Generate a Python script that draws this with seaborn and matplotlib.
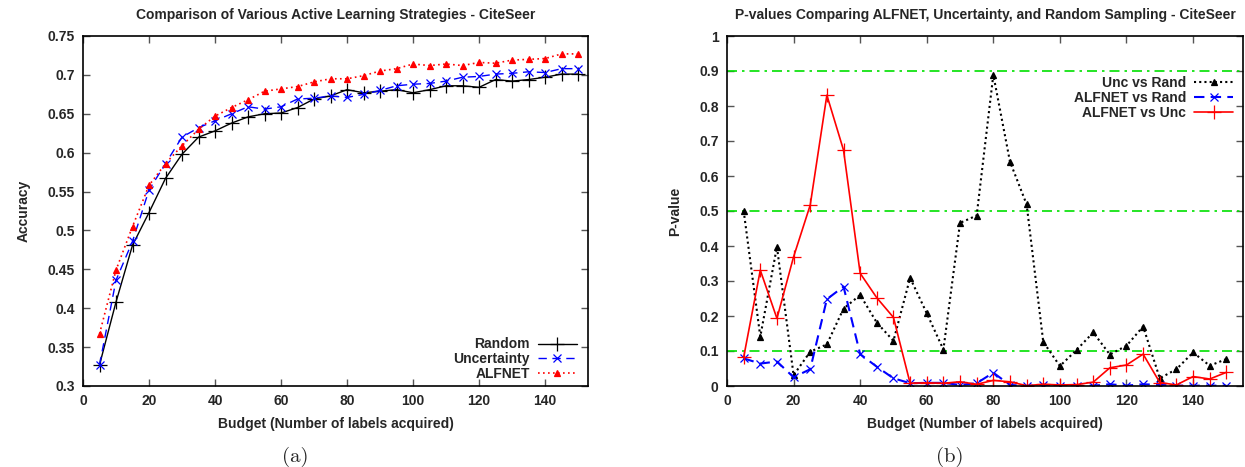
import matplotlib
matplotlib.use("Agg")
import matplotlib.pyplot as plt
from matplotlib.ticker import FormatStrFormatter, MultipleLocator
import seaborn as sns

# budget (number of labels acquired)
budget = [5, 10, 15, 20, 25, 30, 35, 40, 45, 50, 55, 60, 65, 70, 75,
          80, 85, 90, 95, 100, 105, 110, 115, 120, 125, 130, 135, 140, 145, 150]

# (a) accuracy
acc_random = [0.327, 0.408, 0.481, 0.523, 0.567, 0.598, 0.620, 0.628, 0.638, 0.646,
              0.650, 0.651, 0.658, 0.669, 0.673, 0.681, 0.677, 0.679, 0.681, 0.677,
              0.681, 0.686, 0.686, 0.684, 0.694, 0.692, 0.694, 0.697, 0.701, 0.701]
acc_uncertainty = [0.327, 0.436, 0.486, 0.552, 0.586, 0.620, 0.632, 0.641, 0.650, 0.659,
                   0.656, 0.659, 0.669, 0.670, 0.673, 0.671, 0.675, 0.680, 0.686, 0.688,
                   0.689, 0.692, 0.697, 0.698, 0.701, 0.702, 0.704, 0.703, 0.708, 0.708]
acc_alfnet = [0.367, 0.449, 0.505, 0.558, 0.586, 0.609, 0.630, 0.647, 0.658, 0.668,
              0.679, 0.682, 0.685, 0.691, 0.695, 0.695, 0.699, 0.705, 0.708, 0.714,
              0.712, 0.714, 0.712, 0.716, 0.715, 0.719, 0.720, 0.721, 0.727, 0.727]

# (b) p-values
p_unc_rand = [0.501, 0.141, 0.398, 0.031, 0.098, 0.119, 0.221, 0.260, 0.181, 0.129,
              0.309, 0.208, 0.104, 0.466, 0.487, 0.889, 0.641, 0.519, 0.126, 0.057,
              0.103, 0.153, 0.090, 0.115, 0.170, 0.022, 0.048, 0.096, 0.058, 0.077]
p_alfnet_rand = [0.079, 0.064, 0.070, 0.025, 0.048, 0.248, 0.284, 0.091, 0.055, 0.022,
                 0.008, 0.009, 0.009, 0.003, 0.008, 0.038, 0.003, 0.000, 0.003, 0.001,
                 0.000, 0.001, 0.005, 0.001, 0.005, 0.003, 0.001, 0.001, 0.001, 0.001]
p_alfnet_unc = [0.082, 0.331, 0.193, 0.369, 0.517, 0.831, 0.674, 0.322, 0.252, 0.196,
                0.008, 0.009, 0.008, 0.012, 0.005, 0.016, 0.012, 0.001, 0.005, 0.003,
                0.004, 0.011, 0.052, 0.060, 0.091, 0.010, 0.003, 0.027, 0.020, 0.039]

thresholds = [0.1, 0.5, 0.9]

sns.set_style("ticks")
plt.rcParams['font.family'] = ['Liberation Sans', 'DejaVu Sans']
plt.rcParams['font.weight'] = 'bold'
plt.rcParams['axes.labelweight'] = 'bold'
plt.rcParams['axes.titleweight'] = 'bold'
FS = 10

W, H = 1245, 467
fig = plt.figure(figsize=(W / 100, H / 100), dpi=100)
ax1 = fig.add_axes([83 / W, 1 - 386 / H, (588 - 83) / W, 350 / H])
ax2 = fig.add_axes([727 / W, 1 - 386 / H, (1243 - 727) / W, 350 / H])


def line(ax, y, color, ls, marker, ms, lw, label):
    sns.lineplot(x=budget, y=y, ax=ax, color=color, linestyle=ls, linewidth=lw,
                 marker=marker, markersize=ms, markeredgecolor=color,
                 markerfacecolor=color, markeredgewidth=0.9, label=label)


line(ax1, acc_random, 'black', '-', '+', 10, 1.0, 'Random')
line(ax1, acc_uncertainty, '#0000ff', (0, (6, 4)), 'x', 5.5, 1.0, 'Uncertainty')
line(ax1, acc_alfnet, '#ff0000', (0, (1, 2)), '^', 4.5, 1.2, 'ALFNET')

for t in thresholds:
    ax2.axhline(t, color='#00e000', linestyle=(0, (6, 3, 1.5, 3)), linewidth=1.2, zorder=1)
line(ax2, p_unc_rand, 'black', (0, (1, 1.5)), '^', 4.5, 1.5, 'Unc vs Rand')
line(ax2, p_alfnet_rand, '#0000ff', (0, (5, 3)), 'x', 5.5, 1.5, 'ALFNET vs Rand')
line(ax2, p_alfnet_unc, '#ff0000', '-', '+', 10, 1.2, 'ALFNET vs Unc')

ax1.set_xlim(0, 153)
ax1.set_ylim(0.3, 0.75)
ax1.yaxis.set_major_locator(MultipleLocator(0.05))
ax1.yaxis.set_major_formatter(FormatStrFormatter('%g'))
ax2.set_xlim(0, 155)
ax2.set_ylim(0, 1)
ax2.yaxis.set_major_locator(MultipleLocator(0.1))
ax2.yaxis.set_major_formatter(FormatStrFormatter('%g'))

for ax in (ax1, ax2):
    ax.xaxis.set_major_locator(MultipleLocator(20))
    ax.tick_params(direction='in', top=True, right=True, length=5, width=1,
                   labelsize=FS, pad=6, color='#555555')
    for lab in ax.get_xticklabels() + ax.get_yticklabels():
        lab.set_fontweight('bold')
    for s in ax.spines.values():
        s.set_visible(True)
        s.set_linewidth(1.2)
        s.set_color('black')
    ax.set_xlabel('Budget (Number of labels acquired)', fontsize=FS, fontweight='bold', labelpad=6)

ax1.set_ylabel('Accuracy', fontsize=FS, fontweight='bold', labelpad=12)
ax2.set_ylabel('P-value', fontsize=FS, fontweight='bold', labelpad=12)
ax1.set_title('Comparison of Various Active Learning Strategies - CiteSeer',
              fontsize=FS, fontweight='bold', pad=12)
ax2.set_title('P-values Comparing ALFNET, Uncertainty, and Random Sampling - CiteSeer',
              fontsize=FS, fontweight='bold', pad=12)

leg1 = ax1.legend(loc='lower right', bbox_to_anchor=(0.978, 0.015), frameon=False,
                  markerfirst=False, fontsize=FS, handlelength=2.8, handletextpad=0.6,
                  labelspacing=0.05, borderpad=0, borderaxespad=0, numpoints=1)
leg2 = ax2.legend(loc='upper right', bbox_to_anchor=(0.981, 0.885), frameon=False,
                  markerfirst=False, fontsize=FS, handlelength=2.8, handletextpad=0.6,
                  labelspacing=0.05, borderpad=0, borderaxespad=0, numpoints=1)
for leg in (leg1, leg2):
    for t in leg.get_texts():
        t.set_fontweight('bold')

fig.text(295 / W, 1 - 457 / H, '(a)', ha='center', va='center', fontsize=15,
         family=['cmr10', 'DejaVu Serif'], fontweight='normal')
fig.text(950 / W, 1 - 457 / H, '(b)', ha='center', va='center', fontsize=15,
         family=['cmr10', 'DejaVu Serif'], fontweight='normal')

fig.savefig('out.png', dpi=100)
